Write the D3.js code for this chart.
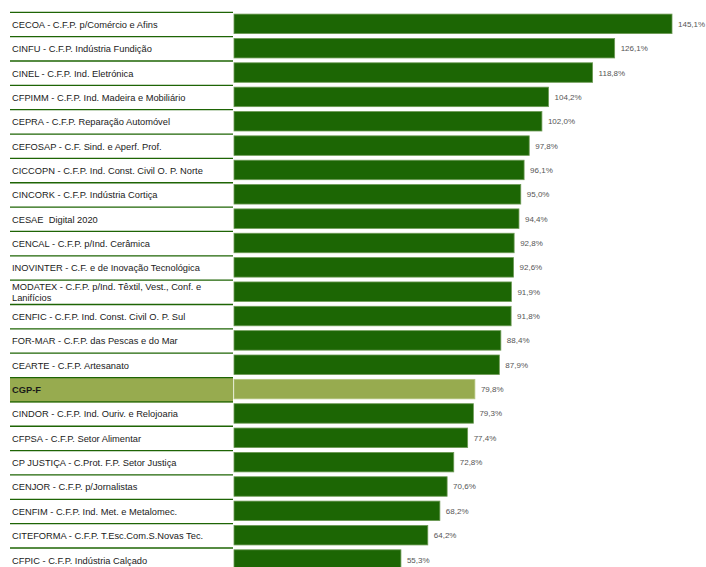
<!DOCTYPE html>
<html lang="pt">
<head>
  <meta charset="utf-8">
  <title>Centros de Formação</title>
  <script src="https://cdn.jsdelivr.net/npm/d3@7"></script>
  <style>
    body { margin: 0; background: #fff; }
    svg { font-family: "Liberation Sans", Arial, sans-serif; }
    text { white-space: pre; }
  </style>
</head>
<body>
  <div class="chart"></div>
  <script>
    var w = 706,
      h = 567;

    // categories, top to bottom
    var centros = [
      "CECOA - C.F.P. p/Comércio e Afins",
      "CINFU - C.F.P. Indústria Fundição",
      "CINEL - C.F.P. Ind. Eletrónica",
      "CFPIMM - C.F.P. Ind. Madeira e Mobiliário",
      "CEPRA - C.F.P. Reparação Automóvel",
      "CEFOSAP - C.F. Sind. e Aperf. Prof.",
      "CICCOPN - C.F.P. Ind. Const. Civil O. P. Norte",
      "CINCORK - C.F.P. Indústria Cortiça",
      "CESAE  Digital 2020",
      "CENCAL - C.F.P. p/Ind. Cerâmica",
      "INOVINTER - C.F. e de Inovação Tecnológica",
      "MODATEX - C.F.P. p/Ind. Têxtil, Vest., Conf. e|Lanifícios",
      "CENFIC - C.F.P. Ind. Const. Civil O. P. Sul",
      "FOR-MAR - C.F.P. das Pescas e do Mar",
      "CEARTE - C.F.P. Artesanato",
      "CGP-F",
      "CINDOR - C.F.P. Ind. Ouriv. e Relojoaria",
      "CFPSA - C.F.P. Setor Alimentar",
      "CP JUSTIÇA - C.Prot. F.P. Setor Justiça",
      "CENJOR - C.F.P. p/Jornalistas",
      "CENFIM - C.F.P. Ind. Met. e Metalomec.",
      "CITEFORMA - C.F.P. T.Esc.Com.S.Novas Tec.",
      "CFPIC - C.F.P. Indústria Calçado"
    ];

    var valores = [145.1, 126.1, 118.8, 104.2, 102.0, 97.8, 96.1, 95.0, 94.4, 92.8,
      92.6, 91.9, 91.8, 88.4, 87.9, 79.8, 79.3, 77.4, 72.8, 70.6, 68.2, 64.2, 55.3];

    var destaque = "CGP-F";

    var data = centros.map(function(c, i) {
      return { nome: c, valor: valores[i] };
    });

    var svg = d3.select('.chart')
      .append('svg')
      .attr('width', w)
      .attr('height', h);

    var y = d3.scaleBand()
      .domain(centros)
      .range([12.3, 12.3 + 23 * 24.35])
      .paddingInner(0);

    var x = d3.scaleLinear()
      .domain([0, 145.1])
      .range([234, 672]);

    var fmt = function(v) {
      return d3.format(".1f")(v).replace(".", ",") + "%";
    };

    var rows = svg.selectAll("g.row")
      .data(data)
      .enter()
      .append("g")
      .attr("class", "row")
      .attr("transform", function(d) { return "translate(0," + y(d.nome) + ")"; });

    // highlight background for CGP-F label
    rows.filter(function(d) { return d.nome === destaque; })
      .append("rect")
      .attr("x", 10)
      .attr("y", 0.5)
      .attr("width", 223)
      .attr("height", y.bandwidth())
      .attr("fill", "#97ab4f");

    // row separators
    rows.append("line")
      .attr("x1", 10)
      .attr("x2", 233)
      .attr("y1", 0)
      .attr("y2", 0)
      .attr("stroke", "#1e6405")
      .attr("stroke-width", 1.3);

    // labels
    rows.append("text")
      .attr("x", 12)
      .attr("font-size", 9.3)
      .attr("fill", "#1a1a1a")
      .attr("font-weight", function(d) { return d.nome === destaque ? "bold" : null; })
      .each(function(d) {
        var parts = d.nome.split("|");
        var t = d3.select(this);
        var y0 = parts.length > 1 ? 9.5 : 15.5;
        parts.forEach(function(p, k) {
          t.append("tspan")
            .attr("x", 12)
            .attr("y", y0 + k * 11.5)
            .text(p);
        });
      });

    // bars
    rows.append("rect")
      .attr("x", x(0))
      .attr("y", 1.8)
      .attr("width", function(d) { return x(d.valor) - x(0); })
      .attr("height", 19.5)
      .attr("fill", function(d) { return d.nome === destaque ? "#97ab4f" : "#1c6604"; })
      .attr("stroke", function(d) { return d.nome === destaque ? "#b5c680" : "#6d9a55"; })
      .attr("stroke-width", 0.8);

    // value labels
    rows.append("text")
      .attr("x", function(d) { return x(d.valor) + 6; })
      .attr("y", 14.5)
      .attr("font-size", 8)
      .attr("fill", "#555")
      .text(function(d) { return fmt(d.valor); });

    // bottom line under last row
    svg.append("line")
      .attr("x1", 10)
      .attr("x2", 233)
      .attr("y1", y.range()[1])
      .attr("y2", y.range()[1])
      .attr("stroke", "#1e6405")
      .attr("stroke-width", 1.3);
  </script>
</body>
</html>
